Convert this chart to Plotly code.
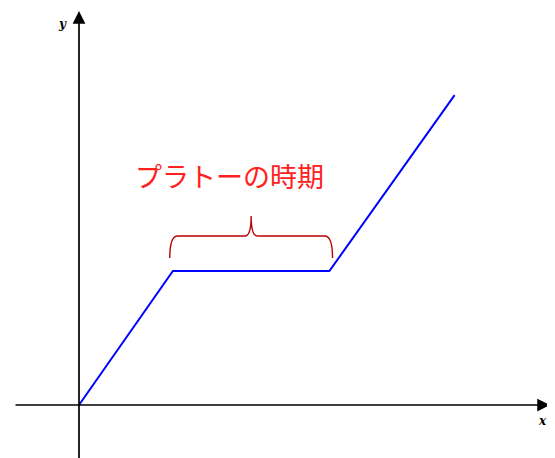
import plotly.graph_objects as go

# data (x: time, y: level)
x_vals = [0, 3, 8, 12]
y_vals = [0, 4.28, 4.28, 9.9]
label_text = "プラトーの時期"

W, H = 555, 458
PAD = 8           # page body margin in the browser
S = 31.3          # pixels per unit
OX, OY = 79, 405  # origin in pixels (page coordinates)

def ux(px):
    return (px - OX) / S

def uy(py):
    return (OY - py) / S

fig = go.Figure()
fig.add_trace(go.Scatter(x=x_vals, y=y_vals, mode="lines",
                         line=dict(color="#0000ff", width=2), hoverinfo="skip"))

# brace above the plateau
a, b = x_vals[1] - 0.1, x_vals[2] + 0.1
m = (x_vals[1] + x_vals[2]) / 2
yp = y_vals[1]
yb, yh, yt = yp + 13 / S, yp + 35 / S, yp + 55 / S
path = (f"M {a},{yb} Q {a},{yh} {a+0.25},{yh} L {m-0.2},{yh} "
        f"Q {m},{yh} {m},{yt} Q {m},{yh} {m+0.2},{yh} "
        f"L {b-0.25},{yh} Q {b},{yh} {b},{yb}")
fig.add_shape(type="path", path=path, xref="x", yref="y",
              line=dict(color="#b80000", width=1.4))

# axes with arrows
fig.add_annotation(x=ux(550), y=0, ax=ux(14), ay=0, xref="x", yref="y",
                   axref="x", ayref="y", text="", showarrow=True,
                   arrowhead=2, arrowsize=1.5, arrowwidth=1.7, arrowcolor="black")
fig.add_annotation(x=0, y=uy(11), ax=0, ay=uy(470), xref="x", yref="y",
                   axref="x", ayref="y", text="", showarrow=True,
                   arrowhead=2, arrowsize=1.5, arrowwidth=1.7, arrowcolor="black")

fig.add_annotation(x=ux(62), y=uy(24), text="<b><i>y</i></b>", showarrow=False,
                   font=dict(family="DejaVu Serif", size=12, color="black"))
fig.add_annotation(x=ux(542), y=uy(421), text="<b><i>x</i></b>", showarrow=False,
                   font=dict(family="DejaVu Serif", size=12, color="black"))

fig.add_annotation(x=ux(229), y=uy(175), text=label_text, showarrow=False,
                   font=dict(family="Noto Sans CJK JP", size=27, color="#ff2020"))

fig.update_xaxes(range=[ux(PAD), ux(PAD + W)], visible=False)
fig.update_yaxes(range=[uy(PAD + H), uy(PAD)], visible=False)
fig.update_layout(width=W, height=H, margin=dict(l=0, r=0, t=0, b=0),
                  plot_bgcolor="white", paper_bgcolor="white", showlegend=False)

fig.write_html("out.html")
